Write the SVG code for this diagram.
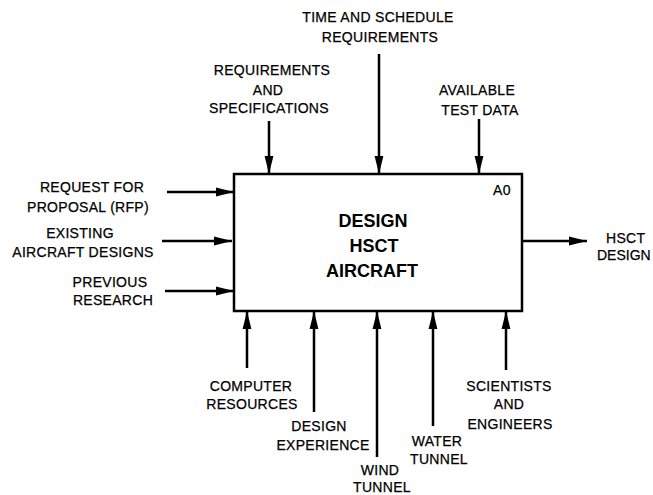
<svg xmlns="http://www.w3.org/2000/svg" width="653" height="495" viewBox="0 0 653 495">
  <defs>
    <style>
      .lbl { font-family: "Liberation Sans", Arial, sans-serif; font-size: 14px; letter-spacing: 0.3px; fill: #000; stroke: #000; stroke-width: 0.25; text-anchor: middle; }
      .st { text-anchor: start; }
      .title { font-family: "Liberation Sans", Arial, sans-serif; font-size: 18px; font-weight: bold; fill: #000; text-anchor: middle; }
      .box { fill: #fff; stroke: #000; stroke-width: 2.5; }
      .conn { stroke: #000; stroke-width: 2.5; fill: none; marker-end: url(#ah); }
    </style>
    <marker id="ah" markerUnits="userSpaceOnUse" viewBox="0 0 18 10" markerWidth="18" markerHeight="10" refX="18" refY="5" orient="auto">
      <path d="M0,0.6 L18,5 L0,9.4 Z" fill="#000"/>
    </marker>
  </defs>
  <rect width="653" height="495" fill="#fff"/>

  <g id="A0">
    <rect class="box" x="234" y="174" width="288" height="137"/>
    <text class="lbl st" x="493" y="195">A0</text>
    <text class="title" x="373" y="227">DESIGN</text>
    <text class="title" x="374" y="252">HSCT</text>
    <text class="title" x="372" y="277">AIRCRAFT</text>
  </g>

  <g id="connectors">
    <line class="conn" x1="269" y1="121" x2="269" y2="174"/>
    <line class="conn" x1="379" y1="54" x2="379" y2="174"/>
    <line class="conn" x1="479" y1="119" x2="479" y2="174"/>
    <line class="conn" x1="167" y1="192" x2="234" y2="192"/>
    <line class="conn" x1="162" y1="241" x2="232" y2="241"/>
    <line class="conn" x1="165" y1="291" x2="234" y2="291"/>
    <line class="conn" x1="522" y1="241" x2="587" y2="241"/>
    <line class="conn" x1="247" y1="368" x2="247" y2="311"/>
    <line class="conn" x1="314" y1="412" x2="314" y2="311"/>
    <line class="conn" x1="377" y1="457" x2="377" y2="311"/>
    <line class="conn" x1="433" y1="426" x2="433" y2="311"/>
    <line class="conn" x1="506" y1="370" x2="506" y2="311"/>
  </g>

  <g id="label-time">
    <text class="lbl" x="378" y="22">TIME AND SCHEDULE</text>
    <text class="lbl" x="380" y="42">REQUIREMENTS</text>
  </g>
  <g id="label-reqspec">
    <text class="lbl" x="272" y="75">REQUIREMENTS</text>
    <text class="lbl" x="268" y="95">AND</text>
    <text class="lbl" x="269" y="113">SPECIFICATIONS</text>
  </g>
  <g id="label-testdata">
    <text class="lbl" x="477" y="95">AVAILABLE</text>
    <text class="lbl" x="480" y="115">TEST DATA</text>
  </g>
  <g id="label-rfp">
    <text class="lbl" x="92" y="192">REQUEST FOR</text>
    <text class="lbl" x="88" y="212">PROPOSAL (RFP)</text>
  </g>
  <g id="label-existing">
    <text class="lbl" x="80" y="238">EXISTING</text>
    <text class="lbl" x="83" y="257">AIRCRAFT DESIGNS</text>
  </g>
  <g id="label-previous">
    <text class="lbl" x="110" y="287">PREVIOUS</text>
    <text class="lbl" x="113" y="305">RESEARCH</text>
  </g>
  <g id="label-output">
    <text class="lbl st" x="606" y="243">HSCT</text>
    <text class="lbl st" x="597" y="260" style="letter-spacing:0">DESIGN</text>
  </g>
  <g id="label-computer">
    <text class="lbl" x="251" y="391">COMPUTER</text>
    <text class="lbl" x="252" y="409">RESOURCES</text>
  </g>
  <g id="label-experience">
    <text class="lbl" x="319" y="431">DESIGN</text>
    <text class="lbl" x="323" y="450">EXPERIENCE</text>
  </g>
  <g id="label-wind">
    <text class="lbl" x="380" y="475">WIND</text>
    <text class="lbl" x="382" y="492">TUNNEL</text>
  </g>
  <g id="label-water">
    <text class="lbl" x="437" y="446">WATER</text>
    <text class="lbl" x="439" y="464">TUNNEL</text>
  </g>
  <g id="label-scientists">
    <text class="lbl" x="509" y="391">SCIENTISTS</text>
    <text class="lbl" x="509" y="409">AND</text>
    <text class="lbl" x="510" y="429">ENGINEERS</text>
  </g>
</svg>
